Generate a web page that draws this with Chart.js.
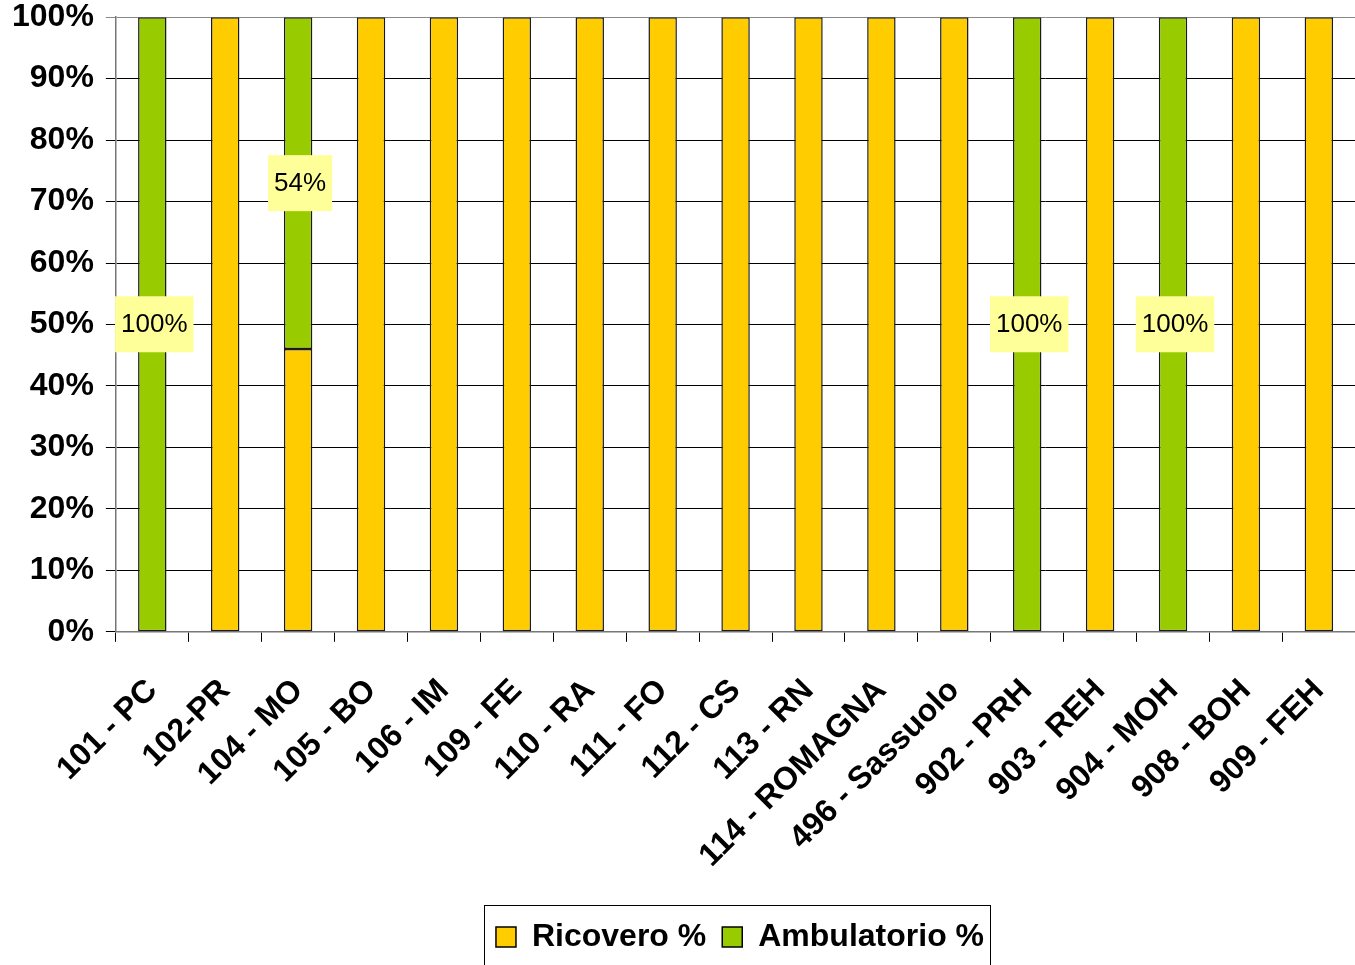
<!DOCTYPE html>
<html>
<head>
<meta charset="utf-8">
<script src="https://cdn.jsdelivr.net/npm/chart.js@4/dist/chart.umd.min.js"></script>
<style>
html,body{margin:0;padding:0;background:#fff;}
#wrap{width:1355px;height:965px;position:relative;overflow:hidden;}
#c{position:absolute;left:0;top:-14px;}
</style>
</head>
<body>
<div id="wrap"><canvas id="c" width="1376" height="979"></canvas></div>
<script>
const categories = ['101 - PC','102-PR','104 - MO','105 - BO','106 - IM','109 - FE','110 - RA','111 - FO','112 - CS','113 - RN','114 - ROMAGNA','496 - Sassuolo','902 - PRH','903 - REH','904 - MOH','908 - BOH','909 - FEH'];
const ricovero =    [0,100,46,100,100,100,100,100,100,100,100,100,0,100,0,100,100];
const ambulatorio = [100,0,54,0,0,0,0,0,0,0,0,0,100,0,100,0,0];
const seriesNames = ['Ricovero %','Ambulatorio %'];
const yTicks = [0,10,20,30,40,50,60,70,80,90,100];

const FONT = '"Liberation Sans", Arial, sans-serif';

const labelPlugin = {
  id: 'ambLabels',
  afterDatasetsDraw(chart) {
    const ctx = chart.ctx;
    const meta = chart.getDatasetMeta(1);
    ctx.save();
    ctx.font = '26px ' + FONT;
    ctx.textAlign = 'center';
    ctx.textBaseline = 'middle';
    meta.data.forEach((el, i) => {
      const v = ambulatorio[i];
      if (!v) return;
      const cx = el.x + 2;
      const cy = (el.y + el.base) / 2;
      const txt = v + '%';
      const w = ctx.measureText(txt).width + 12;
      const h = 56;
      ctx.fillStyle = '#FFFF99';
      ctx.fillRect(cx - w / 2, cy - h / 2, w, h);
      ctx.fillStyle = '#000';
      ctx.fillText(txt, cx, cy + 1);
    });
    ctx.restore();
  }
};

const LEGEND_SHIFT = 52;
const legendShift = {
  id: 'legendShift',
  afterUpdate(chart) {
    const lg = chart.legend;
    if (!lg) return;
    lg.left += LEGEND_SHIFT;
    lg.right += LEGEND_SHIFT;
    if (lg.legendHitBoxes) lg.legendHitBoxes.forEach(b => { b.left += LEGEND_SHIFT; });
  },
  afterDraw(chart) {
    const lg = chart.legend;
    if (!lg || !lg.legendHitBoxes || !lg.legendHitBoxes.length) return;
    const hb = lg.legendHitBoxes;
    const l = Math.min(...hb.map(b => b.left));
    const r = Math.max(...hb.map(b => b.left + b.width));
    const t = Math.min(...hb.map(b => b.top));
    const ctx = chart.ctx;
    ctx.save();
    ctx.strokeStyle = '#000';
    ctx.lineWidth = 1;
    ctx.strokeRect(Math.round(l - 12) + 0.5, Math.round(t - 16) + 0.5, Math.round(r - l + 18), 80);
    ctx.restore();
  }
};

new Chart(document.getElementById('c'), {
  type: 'bar',
  data: {
    labels: categories,
    datasets: [
      { label: seriesNames[0], data: ricovero, backgroundColor: '#FFCC00', borderColor: '#1a1a1a', borderWidth: 1.5, borderSkipped: false, barPercentage: 0.39, categoryPercentage: 1 },
      { label: seriesNames[1], data: ambulatorio, backgroundColor: '#99CC00', borderColor: '#1a1a1a', borderWidth: 1.5, borderSkipped: false, barPercentage: 0.39, categoryPercentage: 1 }
    ]
  },
  options: {
    responsive: false,
    animation: false,
    layout: { padding: { top: 4, right: 0, left: 0, bottom: 2 } },
    plugins: {
      legend: {
        position: 'bottom',
        labels: {
          color: '#000',
          font: { family: FONT, size: 32, weight: 'bold' },
          boxWidth: 20, boxHeight: 20, padding: 16,
          generateLabels(chart) {
            return chart.data.datasets.map((d, i) => ({
              text: d.label, fillStyle: d.backgroundColor, strokeStyle: '#000', lineWidth: 1.5, datasetIndex: i, fontColor: '#000'
            }));
          }
        }
      },
      tooltip: { enabled: false }
    },
    scales: {
      x: {
        stacked: true,
        grid: { display: true, offset: true, drawOnChartArea: false, drawTicks: true, tickLength: 10, color: '#000' },
        border: { color: '#777', width: 1.5 },
        ticks: { color: '#000', font: { family: FONT, size: 32, weight: 'bold' }, minRotation: 45, maxRotation: 45, padding: 30, autoSkip: false }
      },
      y: {
        stacked: true,
        min: 0, max: 100,
        afterBuildTicks(scale) { scale.ticks = yTicks.map(v => ({ value: v })); },
        grid: { color: ctx => (ctx.tick && ctx.tick.value === 100) ? '#888' : '#000', lineWidth: 1, tickLength: 10 },
        border: { color: '#777', width: 1.5 },
        ticks: { color: '#000', font: { family: FONT, size: 32, weight: 'bold' }, padding: 12, callback: v => v + '%' }
      }
    }
  },
  plugins: [labelPlugin, legendShift]
});
</script>
</body>
</html>
